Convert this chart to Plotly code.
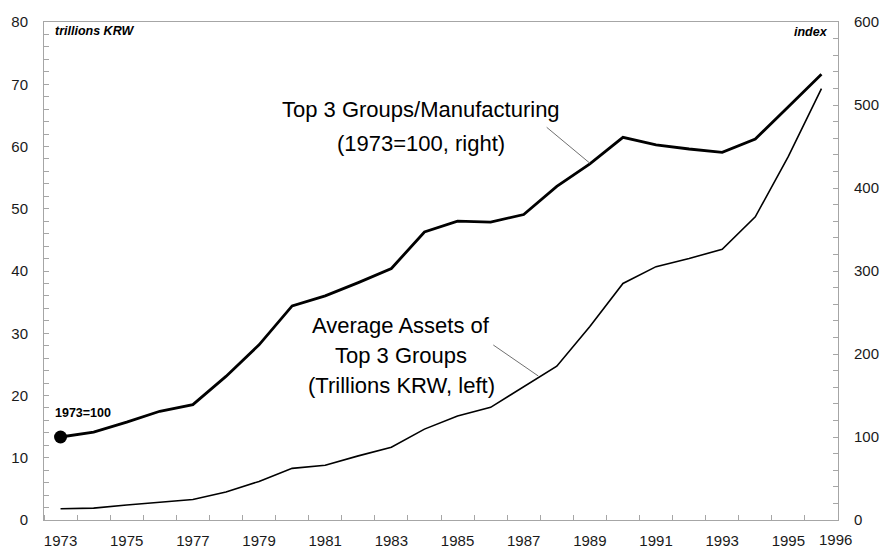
import plotly.graph_objects as go

years = list(range(1973, 1997))
# Top 3 Groups / Manufacturing index (1973=100), right axis
index_ratio = [100, 106, 118, 131, 139, 173, 211, 258, 270, 286, 303, 347, 360, 359,
               368, 402, 429, 461, 452, 447, 443, 459, 498, 537]
# Average assets of top 3 groups, trillions KRW, left axis
avg_assets = [1.8, 1.9, 2.4, 2.8, 3.3, 4.5, 6.2, 8.3, 8.8, 10.3, 11.7, 14.6, 16.7, 18.1,
              21.4, 24.7, 31.1, 38.0, 40.7, 42.0, 43.5, 48.7, 58.4, 69.3]
x_tick_years = list(range(1973, 1996, 2))
x_tick_labels = [str(y) for y in x_tick_years]

AX = "#a6a6a6"
TXT = "#1a1a1a"
FONT = "Liberation Sans"

fig = go.Figure()
fig.add_trace(go.Scatter(x=years, y=avg_assets, mode="lines",
                         line=dict(color="black", width=1.6), yaxis="y", showlegend=False))
fig.add_trace(go.Scatter(x=years, y=index_ratio, mode="lines",
                         line=dict(color="black", width=2.8), yaxis="y2", showlegend=False))
fig.add_trace(go.Scatter(x=[years[0]], y=[index_ratio[0]], mode="markers",
                         marker=dict(color="black", size=13), yaxis="y2", showlegend=False))

W, H = 883, 549
L, R, T, B = 44, 45, 22, 29
pw, ph = W - L - R, H - T - B


def px(x):
    return (x - L) / pw


def py(y):
    return (H - B - y) / ph


ann = []
def label(text, x, y, size=22, xanchor="center", bold=False, italic=False):
    t = text
    if bold:
        t = "<b>" + t + "</b>"
    if italic:
        t = "<i>" + t + "</i>"
    ann.append(dict(text=t, x=px(x), y=py(y), xref="paper", yref="paper",
                    xanchor=xanchor, yanchor="middle", showarrow=False,
                    font=dict(family=FONT, size=size, color="black")))

label("Top 3 Groups/Manufacturing", 421, 110)
label("(1973=100, right)", 421, 143)
label("Average Assets of", 401, 325)
label("Top 3 Groups", 401, 355)
label("(Trillions KRW, left)", 401, 385)
label("trillions KRW", 53, 31, size=12.5, xanchor="left", bold=True, italic=True)
label("index", 830, 32, size=12.5, xanchor="right", bold=True, italic=True)
label("1973=100", 53, 413, size=12.5, xanchor="left", bold=True)
ann.append(dict(text="1996", x=px(835), y=py(539), xref="paper", yref="paper",
                xanchor="center", yanchor="middle", showarrow=False,
                font=dict(family=FONT, size=15, color=TXT)))

shapes = [
    dict(type="line", xref="paper", yref="paper", x0=px(546.7), y0=py(127.3),
         x1=px(590), y1=py(163.3), line=dict(color="#707070", width=1)),
    dict(type="line", xref="paper", yref="paper", x0=px(493.3), y0=py(345),
         x1=px(538.3), y1=py(376), line=dict(color="#707070", width=1)),
]

fig.update_layout(
    width=W, height=H,
    margin=dict(l=L, r=R, t=T, b=B, autoexpand=False),
    paper_bgcolor="white", plot_bgcolor="white",
    font=dict(family=FONT, size=15, color=TXT),
    annotations=ann, shapes=shapes,
    xaxis=dict(range=[1972.5, 1996.5], tickmode="array", tickvals=x_tick_years,
               ticktext=x_tick_labels, ticks="", showgrid=False, zeroline=False,
               showline=True, linecolor=AX, linewidth=1, mirror=True,
               ticklabelstandoff=7, automargin=False,
               minor=dict(tick0=1972.5, dtick=1, ticks="inside", ticklen=5,
                          tickcolor=AX, showgrid=False),
               tickfont=dict(family=FONT, size=15, color=TXT)),
    yaxis=dict(range=[0, 80], dtick=10, ticks="inside", ticklen=5, tickcolor=AX,
               showgrid=False, zeroline=False, showline=True, linecolor=AX, linewidth=1,
               ticklabelstandoff=12, automargin=False,
               minor=dict(dtick=2, ticks="inside", ticklen=5, tickcolor=AX, showgrid=False),
               tickfont=dict(family=FONT, size=15, color=TXT)),
    yaxis2=dict(range=[0, 600], dtick=100, ticks="inside", ticklen=5, tickcolor=AX,
                overlaying="y", side="right",
                showgrid=False, zeroline=False, showline=True, linecolor=AX, linewidth=1,
                ticklabelstandoff=12, automargin=False,
                minor=dict(dtick=20, ticks="inside", ticklen=5, tickcolor=AX, showgrid=False),
                tickfont=dict(family=FONT, size=15, color=TXT)),
)

fig.write_html("out.html", config={"displayModeBar": False},
               post_script="document.body.style.margin='0';document.body.style.overflow='hidden';")
